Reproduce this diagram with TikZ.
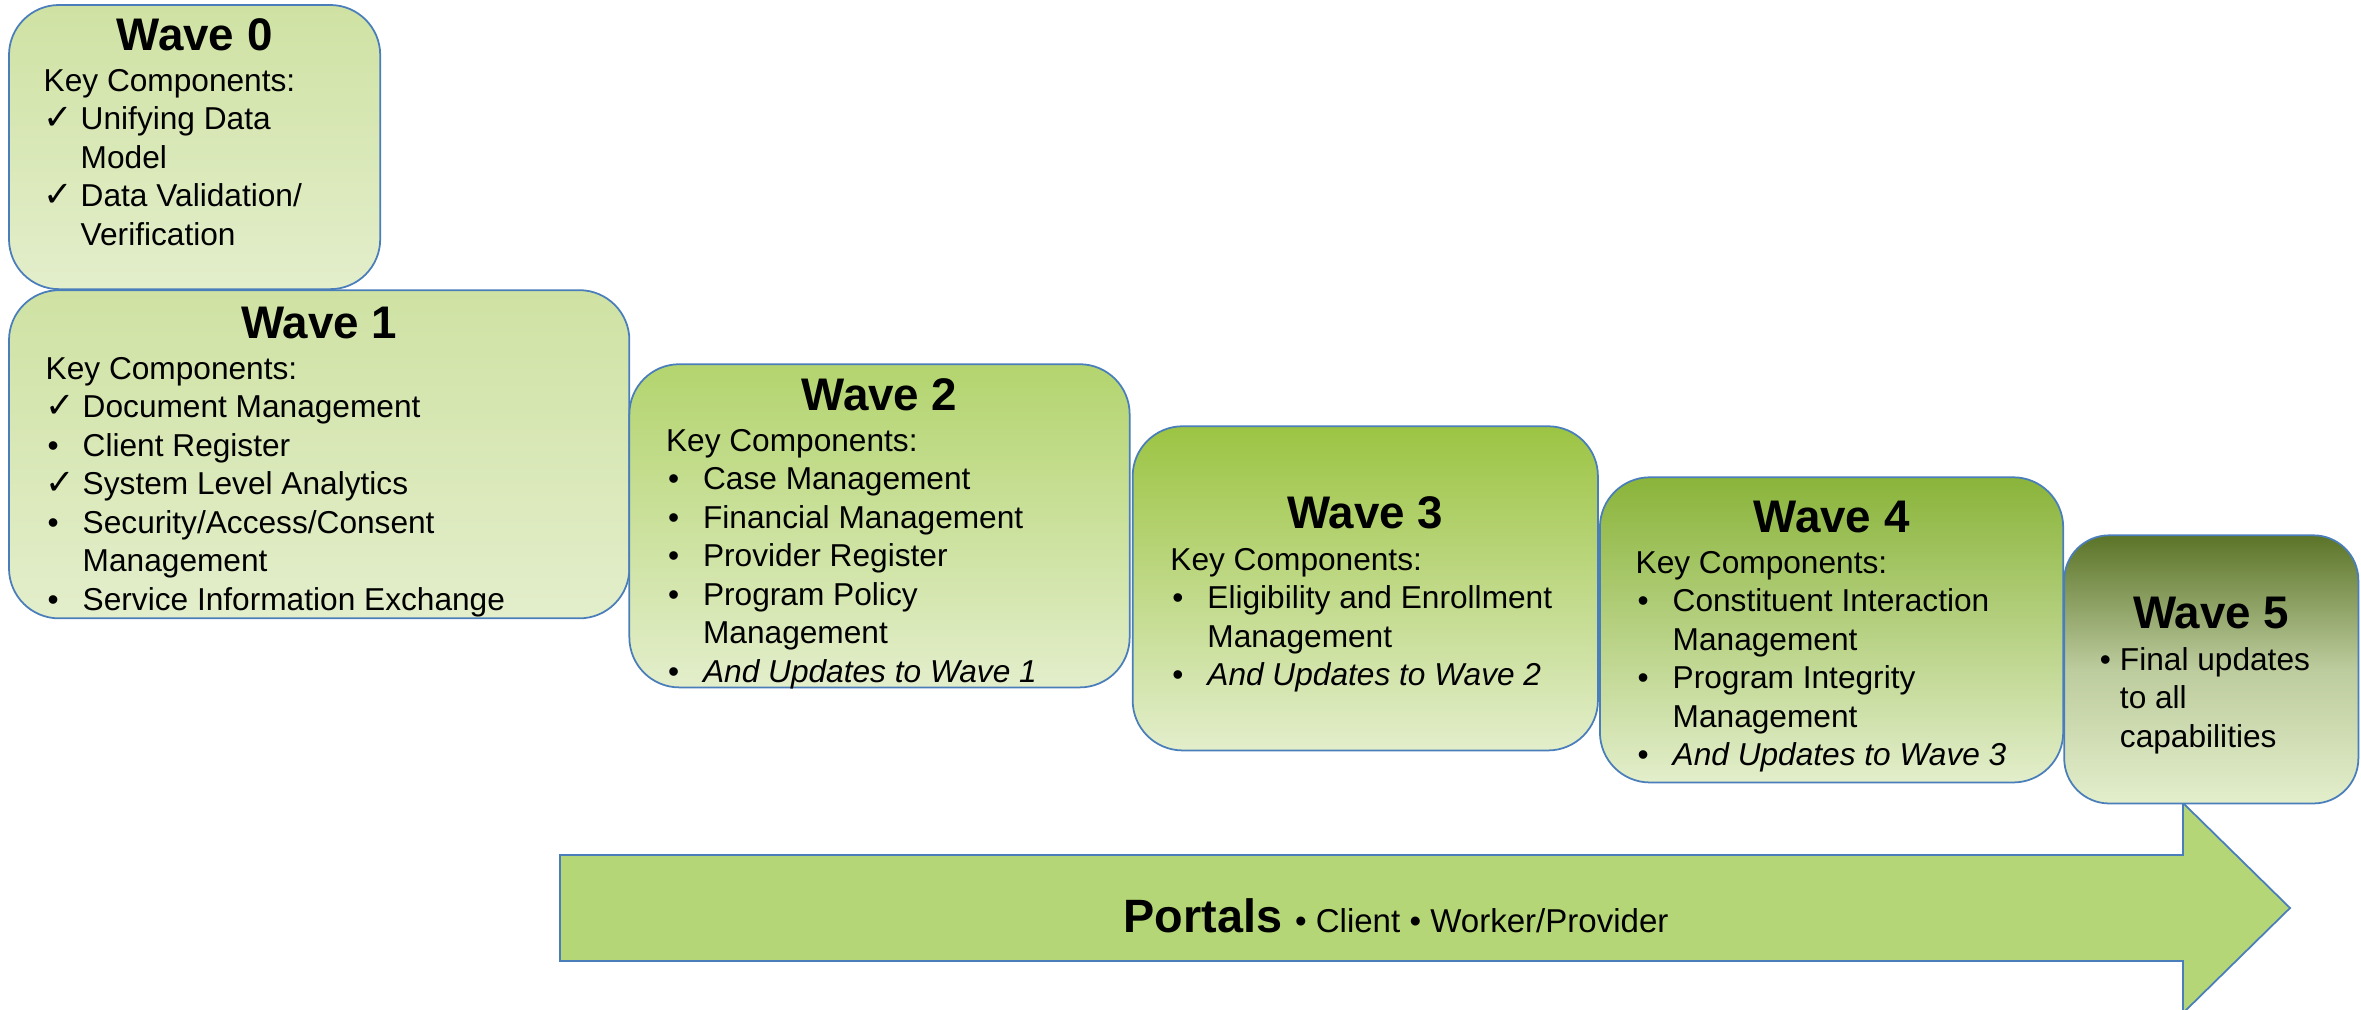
\documentclass[tikz,border=0pt]{standalone}
\usepackage{fontspec}
\setmainfont{Liberation Sans}
\newfontfamily\tickfont{DejaVu Sans}
\usepackage{tikz}
\usetikzlibrary{positioning}

\definecolor{waveline}{HTML}{4A7EBB}
\definecolor{wavepale}{HTML}{E3EECB}
\definecolor{wavezero}{HTML}{CFE2A3}
\definecolor{wavetwo}{HTML}{B3D46E}
\definecolor{wavethree}{HTML}{9CC443}
\definecolor{wavefour}{HTML}{8AB43A}
\definecolor{wavefive}{HTML}{5B7428}
\definecolor{portalgreen}{HTML}{B5D677}

\newcommand{\tickmark}{{\tickfont\fontsize{10}{10}\selectfont\char"2713}}
\newcommand{\dotmark}{\hspace*{0.02cm}\textbullet}
\newcommand{\keycomponents}[1]{%
  \begin{tabular}[t]{@{}p{0.37cm}@{}l@{}}
    \multicolumn{2}{@{}l@{}}{Key Components:}\\
    #1
  \end{tabular}}

\begin{document}
\begin{tikzpicture}[x=0.01cm, y=-0.01cm,
    wave/.style={draw=waveline, line width=0.5pt, rounded corners=0.5cm,
      outer sep=0pt, inner sep=0pt, bottom color=wavepale, top color=#1},
    wavetitle/.style={font=\fontsize{13}{15}\selectfont\bfseries,
      anchor=base, inner sep=0pt},
    keylist/.style={font=\fontsize{9}{10.95}\selectfont,
      anchor=base west, inner sep=0pt}]
  \clip (0,0) rectangle (2361,1009);

  % PORTALS

  \draw[draw=waveline, line width=0.5pt, fill=portalgreen]
    (560,855) -- (2183,855) -- (2183,803) -- (2290,908)
    -- (2183,1013) -- (2183,961) -- (560,961) -- cycle;
  \node[anchor=base, inner sep=0pt] (portals) at (1396,932)
    {{\fontsize{13.3}{16}\selectfont\bfseries Portals }%
     {\fontsize{9.4}{11}\selectfont\textbullet\ Client \textbullet\ Worker/Provider}};

  % WAVES

  \node[wave=wavezero, minimum width=3.71cm, minimum height=2.84cm,
    anchor=north west] (wave0) at (9,5) {};
  \node[wave=wavezero, minimum width=6.20cm, minimum height=3.28cm,
    below right=0.01cm and 0cm of wave0.south west] (wave1) {};
  \node[wave=wavetwo, minimum width=5.00cm, minimum height=3.23cm,
    below right=0.74cm and 0cm of wave1.north east] (wave2) {};
  \node[wave=wavethree, minimum width=4.65cm, minimum height=3.24cm,
    below right=0.62cm and 0.03cm of wave2.north east] (wave3) {};
  \node[wave=wavefour, minimum width=4.63cm, minimum height=3.05cm,
    below right=0.51cm and 0.02cm of wave3.north east] (wave4) {};
  \node[wave=wavefive, middle color=wavepale!72!wavefive,
    minimum width=2.94cm, minimum height=2.68cm, rounded corners=0.45cm,
    below right=0.58cm and 0.01cm of wave4.north east] (wave5) {};

  % TEXTS

  \node[wavetitle] (wave0title) at ([yshift=-0.45cm]wave0.north) {Wave 0};
  \node[keylist] (wave0list) at ([xshift=0.34cm, yshift=-0.86cm]wave0.north west)
    {\keycomponents{
      \tickmark & Unifying Data\\
                & Model\\
      \tickmark & Data Validation/\\
                & Verification}};

  \node[wavetitle] (wave1title) at ([yshift=-0.48cm]wave1.north) {Wave 1};
  \node[keylist] (wave1list) at ([xshift=0.36cm, yshift=-0.89cm]wave1.north west)
    {\keycomponents{
      \tickmark & Document Management\\
      \dotmark  & Client Register\\
      \tickmark & System Level Analytics\\
      \dotmark  & Security/Access/Consent\\
                & Management\\
      \dotmark  & Service Information Exchange}};

  \node[wavetitle] (wave2title) at ([yshift=-0.46cm]wave2.north) {Wave 2};
  \node[keylist] (wave2list) at ([xshift=0.36cm, yshift=-0.87cm]wave2.north west)
    {\keycomponents{
      \dotmark & Case Management\\
      \dotmark & Financial Management\\
      \dotmark & Provider Register\\
      \dotmark & Program Policy\\
               & Management\\
      \dotmark & \textit{And Updates to Wave 1}}};

  \node[wavetitle] (wave3title) at ([yshift=-1.02cm]wave3.north) {Wave 3};
  \node[keylist] (wave3list) at ([xshift=0.37cm, yshift=-1.44cm]wave3.north west)
    {\keycomponents{
      \dotmark & Eligibility and Enrollment\\
               & Management\\
      \dotmark & \textit{And Updates to Wave 2}}};

  \node[wavetitle] (wave4title) at ([yshift=-0.55cm]wave4.north) {Wave 4};
  \node[keylist] (wave4list) at ([xshift=0.35cm, yshift=-0.96cm]wave4.north west)
    {\keycomponents{
      \dotmark & Constituent Interaction\\
               & Management\\
      \dotmark & Program Integrity\\
               & Management\\
      \dotmark & \textit{And Updates to Wave 3}}};

  \node[wavetitle] (wave5title) at ([yshift=-0.93cm]wave5.north) {Wave 5};
  \node[keylist] (wave5list) at ([xshift=0.35cm, yshift=-1.35cm]wave5.north west)
    {\begin{tabular}[t]{@{}p{0.20cm}@{}l@{}}
      \textbullet & Final updates\\
                  & to all\\
                  & capabilities
     \end{tabular}};

\end{tikzpicture}
\end{document}
